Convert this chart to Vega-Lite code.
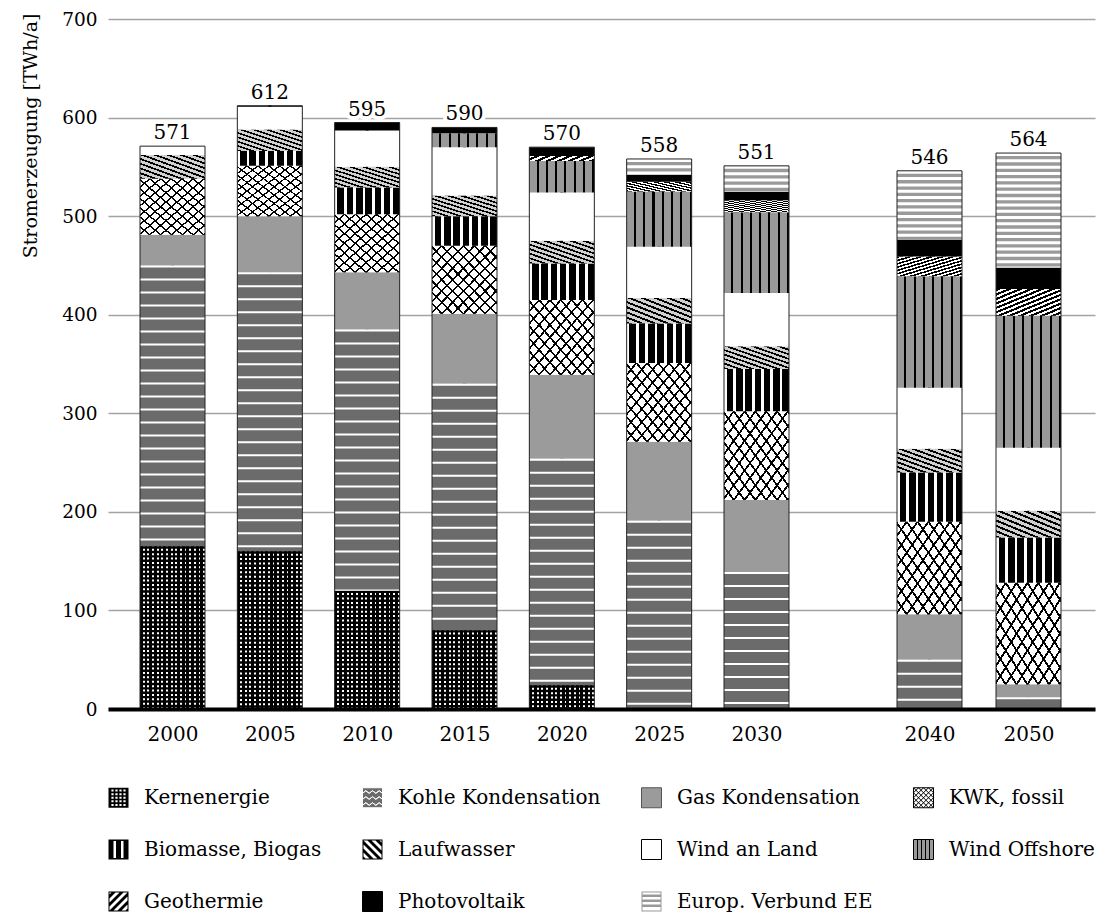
{
  "$schema": "https://vega.github.io/schema/vega-lite/v6.json",
  "width": 987,
  "height": 690,
  "autosize": {"type": "none"},
  "padding": {"left": 108, "top": 19, "right": 15, "bottom": 204},
  "background": "white",
  "config": {"font": "DejaVu Serif", "view": {"stroke": null}},
  "datasets": {
    "gen": [
      {"year": 2000, "source": "Kernenergie", "value": 165},
      {"year": 2000, "source": "Kohle Kondensation", "value": 285},
      {"year": 2000, "source": "Gas Kondensation", "value": 31},
      {"year": 2000, "source": "KWK, fossil", "value": 57},
      {"year": 2000, "source": "Laufwasser", "value": 24},
      {"year": 2000, "source": "Wind an Land", "value": 9},
      {"year": 2005, "source": "Kernenergie", "value": 160},
      {"year": 2005, "source": "Kohle Kondensation", "value": 283},
      {"year": 2005, "source": "Gas Kondensation", "value": 57},
      {"year": 2005, "source": "KWK, fossil", "value": 51},
      {"year": 2005, "source": "Biomasse, Biogas", "value": 15},
      {"year": 2005, "source": "Laufwasser", "value": 22},
      {"year": 2005, "source": "Wind an Land", "value": 23},
      {"year": 2005, "source": "Photovoltaik", "value": 1},
      {"year": 2010, "source": "Kernenergie", "value": 120},
      {"year": 2010, "source": "Kohle Kondensation", "value": 265},
      {"year": 2010, "source": "Gas Kondensation", "value": 58},
      {"year": 2010, "source": "KWK, fossil", "value": 59},
      {"year": 2010, "source": "Biomasse, Biogas", "value": 27},
      {"year": 2010, "source": "Laufwasser", "value": 21},
      {"year": 2010, "source": "Wind an Land", "value": 37},
      {"year": 2010, "source": "Photovoltaik", "value": 8},
      {"year": 2015, "source": "Kernenergie", "value": 80},
      {"year": 2015, "source": "Kohle Kondensation", "value": 250},
      {"year": 2015, "source": "Gas Kondensation", "value": 71},
      {"year": 2015, "source": "KWK, fossil", "value": 69},
      {"year": 2015, "source": "Biomasse, Biogas", "value": 30},
      {"year": 2015, "source": "Laufwasser", "value": 21},
      {"year": 2015, "source": "Wind an Land", "value": 49},
      {"year": 2015, "source": "Wind Offshore", "value": 14},
      {"year": 2015, "source": "Photovoltaik", "value": 6},
      {"year": 2020, "source": "Kernenergie", "value": 24},
      {"year": 2020, "source": "Kohle Kondensation", "value": 230},
      {"year": 2020, "source": "Gas Kondensation", "value": 85},
      {"year": 2020, "source": "KWK, fossil", "value": 76},
      {"year": 2020, "source": "Biomasse, Biogas", "value": 37},
      {"year": 2020, "source": "Laufwasser", "value": 23},
      {"year": 2020, "source": "Wind an Land", "value": 49},
      {"year": 2020, "source": "Wind Offshore", "value": 32},
      {"year": 2020, "source": "Geothermie", "value": 5},
      {"year": 2020, "source": "Photovoltaik", "value": 9},
      {"year": 2025, "source": "Kohle Kondensation", "value": 191},
      {"year": 2025, "source": "Gas Kondensation", "value": 80},
      {"year": 2025, "source": "KWK, fossil", "value": 80},
      {"year": 2025, "source": "Biomasse, Biogas", "value": 40},
      {"year": 2025, "source": "Laufwasser", "value": 26},
      {"year": 2025, "source": "Wind an Land", "value": 52},
      {"year": 2025, "source": "Wind Offshore", "value": 56},
      {"year": 2025, "source": "Geothermie", "value": 10},
      {"year": 2025, "source": "Photovoltaik", "value": 7},
      {"year": 2025, "source": "Europ. Verbund EE", "value": 16},
      {"year": 2030, "source": "Kohle Kondensation", "value": 139},
      {"year": 2030, "source": "Gas Kondensation", "value": 73},
      {"year": 2030, "source": "KWK, fossil", "value": 90},
      {"year": 2030, "source": "Biomasse, Biogas", "value": 43},
      {"year": 2030, "source": "Laufwasser", "value": 23},
      {"year": 2030, "source": "Wind an Land", "value": 54},
      {"year": 2030, "source": "Wind Offshore", "value": 82},
      {"year": 2030, "source": "Geothermie", "value": 12},
      {"year": 2030, "source": "Photovoltaik", "value": 9},
      {"year": 2030, "source": "Europ. Verbund EE", "value": 26},
      {"year": 2040, "source": "Kohle Kondensation", "value": 50},
      {"year": 2040, "source": "Gas Kondensation", "value": 46},
      {"year": 2040, "source": "KWK, fossil", "value": 94},
      {"year": 2040, "source": "Biomasse, Biogas", "value": 50},
      {"year": 2040, "source": "Laufwasser", "value": 24},
      {"year": 2040, "source": "Wind an Land", "value": 62},
      {"year": 2040, "source": "Wind Offshore", "value": 113},
      {"year": 2040, "source": "Geothermie", "value": 20},
      {"year": 2040, "source": "Photovoltaik", "value": 17},
      {"year": 2040, "source": "Europ. Verbund EE", "value": 70},
      {"year": 2050, "source": "Kohle Kondensation", "value": 12},
      {"year": 2050, "source": "Gas Kondensation", "value": 13},
      {"year": 2050, "source": "KWK, fossil", "value": 103},
      {"year": 2050, "source": "Biomasse, Biogas", "value": 46},
      {"year": 2050, "source": "Laufwasser", "value": 27},
      {"year": 2050, "source": "Wind an Land", "value": 64},
      {"year": 2050, "source": "Wind Offshore", "value": 134},
      {"year": 2050, "source": "Geothermie", "value": 27},
      {"year": 2050, "source": "Photovoltaik", "value": 22},
      {"year": 2050, "source": "Europ. Verbund EE", "value": 116}
    ],
    "tot": [
      {"year": 2000, "total": 571},
      {"year": 2005, "total": 612},
      {"year": 2010, "total": 595},
      {"year": 2015, "total": 590},
      {"year": 2020, "total": 570},
      {"year": 2025, "total": 558},
      {"year": 2030, "total": 551},
      {"year": 2040, "total": 546},
      {"year": 2050, "total": 564}
    ]
  },
  "encoding": {
    "x": {
      "field": "year",
      "type": "quantitative",
      "title": null,
      "scale": {
        "domain": [1996.69, 2000, 2030, 2040, 2050, 2056.72],
        "range": [0, 64.5, 648.5, 821.5, 920.5, 987],
        "zero": false,
        "nice": false
      },
      "axis": {
        "values": [2000, 2005, 2010, 2015, 2020, 2025, 2030, 2040, 2050],
        "format": "d",
        "grid": false,
        "ticks": false,
        "domainColor": "#000",
        "domainWidth": 4,
        "labelFontSize": 20,
        "labelColor": "#000",
        "labelPadding": 15,
        "labelOverlap": false,
        "labelFlush": false,
        "zindex": 1
      }
    }
  },
  "layer": [
    {
      "data": {"name": "gen"},
      "transform": [{"stack": "value", "groupby": ["year"], "as": ["v0", "v1"]}],
      "mark": {"type": "point", "filled": true, "size": 1, "opacity": 1},
      "encoding": {
        "y": {"field": "v0", "type": "quantitative", "title": "Stromerzeugung [TWh/a]"},
        "fill": {
          "field": "source", "type": "nominal", "title": null,
          "scale": {
            "domain": ["Kernenergie", "Kohle Kondensation", "Gas Kondensation", "KWK, fossil", "Biomasse, Biogas", "Laufwasser", "Wind an Land", "Wind Offshore", "Geothermie", "Photovoltaik", "Europ. Verbund EE"],
            "range": ["#000000", "#6b6b6b", "#9b9b9b", "#ffffff", "#000000", "#000000", "#ffffff", "#999999", "#000000", "#000000", "#999999"]
          },
          "legend": {"orient": "none", "legendX": 0, "legendY": 768, "direction": "horizontal", "columns": 4, "gridAlign": "each", "columnPadding": 38, "rowPadding": 27, "padding": 0, "title": null, "symbolSize": 400, "symbolStrokeWidth": 1, "labelFontSize": 20, "labelColor": "#000", "labelOffset": 15, "labelLimit": 400}
        },
        "stroke": {
          "field": "source", "type": "nominal", "title": null,
          "scale": {
            "domain": ["Kernenergie", "Kohle Kondensation", "Gas Kondensation", "KWK, fossil", "Biomasse, Biogas", "Laufwasser", "Wind an Land", "Wind Offshore", "Geothermie", "Photovoltaik", "Europ. Verbund EE"],
            "range": ["transparent", "#ffffff", "#555555", "#000000", "transparent", "transparent", "#000000", "#000000", "transparent", "#000000", "transparent"]
          },
          "legend": {"orient": "none", "legendX": 0, "legendY": 768, "direction": "horizontal", "columns": 4, "gridAlign": "each", "columnPadding": 38, "rowPadding": 27, "padding": 0, "title": null, "symbolSize": 400, "symbolStrokeWidth": 1, "labelFontSize": 20, "labelColor": "#000", "labelOffset": 15, "labelLimit": 400}
        },
        "shape": {
          "field": "source", "type": "nominal", "title": null,
          "scale": {
            "domain": ["Kernenergie", "Kohle Kondensation", "Gas Kondensation", "KWK, fossil", "Biomasse, Biogas", "Laufwasser", "Wind an Land", "Wind Offshore", "Geothermie", "Photovoltaik", "Europ. Verbund EE"],
            "range": [
              "M-1,-1H1V1H-1Z M-0.71,-0.82V-0.62H-0.49V-0.82Z M-0.31,-0.82V-0.62H-0.09V-0.82Z M0.09,-0.82V-0.62H0.31V-0.82Z M0.49,-0.82V-0.62H0.71V-0.82Z M-0.71,-0.46V-0.26H-0.49V-0.46Z M-0.31,-0.46V-0.26H-0.09V-0.46Z M0.09,-0.46V-0.26H0.31V-0.46Z M0.49,-0.46V-0.26H0.71V-0.46Z M-0.71,-0.1V0.1H-0.49V-0.1Z M-0.31,-0.1V0.1H-0.09V-0.1Z M0.09,-0.1V0.1H0.31V-0.1Z M0.49,-0.1V0.1H0.71V-0.1Z M-0.71,0.26V0.46H-0.49V0.26Z M-0.31,0.26V0.46H-0.09V0.26Z M0.09,0.26V0.46H0.31V0.26Z M0.49,0.26V0.46H0.71V0.26Z M-0.71,0.62V0.82H-0.49V0.62Z M-0.31,0.62V0.82H-0.09V0.62Z M0.09,0.62V0.82H0.31V0.62Z M0.49,0.62V0.82H0.71V0.62Z",
              "M-1,-1H1V1H-1Z M-1,-0.45L-0.67,-0.7L-0.33,-0.45L0,-0.7L0.33,-0.45L0.67,-0.7L1,-0.45L0.67,-0.7L0.33,-0.45L0,-0.7L-0.33,-0.45L-0.67,-0.7Z M-1,0.15L-0.67,-0.1L-0.33,0.15L0,-0.1L0.33,0.15L0.67,-0.1L1,0.15L0.67,-0.1L0.33,0.15L0,-0.1L-0.33,0.15L-0.67,-0.1Z M-1,0.75L-0.67,0.5L-0.33,0.75L0,0.5L0.33,0.75L0.67,0.5L1,0.75L0.67,0.5L0.33,0.75L0,0.5L-0.33,0.75L-0.67,0.5Z",
              "M-1,-1H1V1H-1Z",
              "M-1,-1H1V1H-1Z M-1,-0.5L-0.5,-1 M-1,0L0,-1 M-1,0.5L0.5,-1 M-1,1L1,-1 M-0.5,1L1,-0.5 M0,1L1,0 M0.5,1L1,0.5 M0.5,-1L1,-0.5 M0,-1L1,0 M-0.5,-1L1,0.5 M-1,-1L1,1 M-1,-0.5L0.5,1 M-1,0L0,1 M-1,0.5L-0.5,1",
              "M-1,-1H1V1H-1Z M-0.5,-0.85V0.85H-0.25V-0.85Z M0.25,-0.85V0.85H0.5V-0.85Z",
              "M-1,-1H1V1H-1Z M-0.9,-0.9V0.9H0.9V-0.9Z M-0.6,1L-1,1L-1,0.6Z M0.2,1L-0.2,1L-1,0.2L-1,-0.2Z M1,1L0.6,1L-1,-0.6L-1,-1Z M-0.6,-1L-0.2,-1L1,0.2L1,0.6Z M0.2,-1L0.6,-1L1,-0.6L1,-0.2Z",
              "M-1,-1H1V1H-1Z",
              "M-1,-1H1V1H-1Z M-0.6,-1V1 M-0.2,-1V1 M0.2,-1V1 M0.6,-1V1",
              "M-1,-1H1V1H-1Z M-0.9,-0.9V0.9H0.9V-0.9Z M1,0.6L1,1L0.6,1Z M1,-0.2L1,0.2L0.2,1L-0.2,1Z M1,-1L1,-0.6L-0.6,1L-1,1Z M-1,0.6L-1,0.2L0.2,-1L0.6,-1Z M-1,-0.2L-1,-0.6L-0.6,-1L-0.2,-1Z",
              "M-1,-1H1V1H-1Z",
              "M-1,-1H1V1H-1Z M-0.9,-0.9V0.9H0.9V-0.9Z M-1,-0.7H1V-0.45H-1Z M-1,-0.2H1V0.05H-1Z M-1,0.3H1V0.55H-1Z"
            ]
          },
          "legend": {"orient": "none", "legendX": 0, "legendY": 768, "direction": "horizontal", "columns": 4, "gridAlign": "each", "columnPadding": 38, "rowPadding": 27, "padding": 0, "title": null, "symbolSize": 400, "symbolStrokeWidth": 1, "labelFontSize": 20, "labelColor": "#000", "labelOffset": 15, "labelLimit": 400}
        }
      }
    },
    {
      "data": {"name": "gen"},
      "transform": [{"stack": "value", "groupby": ["year"], "as": ["v0", "v1"]}],
      "mark": {"type": "bar", "width": 65, "strokeWidth": 0},
      "encoding": {
        "y": {
          "field": "v1",
          "type": "quantitative",
          "title": "Stromerzeugung [TWh/a]",
          "scale": {"domain": [0, 700], "nice": false},
          "axis": {
            "values": [0, 100, 200, 300, 400, 500, 600, 700],
            "grid": true,
            "gridColor": "#a3a3a3",
            "gridWidth": 1.6,
            "domain": false,
            "ticks": false,
            "labelPadding": 11,
            "labelFontSize": 18.5,
            "labelColor": "#000",
            "titleFontSize": 19,
            "titleFontWeight": "normal",
            "titleColor": "#000",
            "titleAnchor": "end",
            "titleAngle": -90,
            "titleAlign": "right",
            "titleBaseline": "middle",
            "titleX": -78,
            "titleY": -6
          }
        },
        "y2": {"field": "v0"},
        "fill": {
          "condition": [
            {"test": "datum.source === 'Kernenergie'", "value": {"gradient": "linear", "x1": 0, "y1": 0, "x2": 1, "y2": 0, "stops": [
              {"offset": 0, "color": "#000"}, {"offset": 0.0429, "color": "#000"}, {"offset": 0.0429, "color": "#fff"}, {"offset": 0.0714, "color": "#fff"},
              {"offset": 0.0714, "color": "#000"}, {"offset": 0.1143, "color": "#000"}, {"offset": 0.1143, "color": "#fff"}, {"offset": 0.1429, "color": "#fff"},
              {"offset": 0.1429, "color": "#000"}, {"offset": 0.1857, "color": "#000"}, {"offset": 0.1857, "color": "#fff"}, {"offset": 0.2143, "color": "#fff"},
              {"offset": 0.2143, "color": "#000"}, {"offset": 0.2571, "color": "#000"}, {"offset": 0.2571, "color": "#fff"}, {"offset": 0.2857, "color": "#fff"},
              {"offset": 0.2857, "color": "#000"}, {"offset": 0.3286, "color": "#000"}, {"offset": 0.3286, "color": "#fff"}, {"offset": 0.3571, "color": "#fff"},
              {"offset": 0.3571, "color": "#000"}, {"offset": 0.4, "color": "#000"}, {"offset": 0.4, "color": "#fff"}, {"offset": 0.4286, "color": "#fff"},
              {"offset": 0.4286, "color": "#000"}, {"offset": 0.4714, "color": "#000"}, {"offset": 0.4714, "color": "#fff"}, {"offset": 0.5, "color": "#fff"},
              {"offset": 0.5, "color": "#000"}, {"offset": 0.5429, "color": "#000"}, {"offset": 0.5429, "color": "#fff"}, {"offset": 0.5714, "color": "#fff"},
              {"offset": 0.5714, "color": "#000"}, {"offset": 0.6143, "color": "#000"}, {"offset": 0.6143, "color": "#fff"}, {"offset": 0.6429, "color": "#fff"},
              {"offset": 0.6429, "color": "#000"}, {"offset": 0.6857, "color": "#000"}, {"offset": 0.6857, "color": "#fff"}, {"offset": 0.7143, "color": "#fff"},
              {"offset": 0.7143, "color": "#000"}, {"offset": 0.7571, "color": "#000"}, {"offset": 0.7571, "color": "#fff"}, {"offset": 0.7857, "color": "#fff"},
              {"offset": 0.7857, "color": "#000"}, {"offset": 0.8286, "color": "#000"}, {"offset": 0.8286, "color": "#fff"}, {"offset": 0.8571, "color": "#fff"},
              {"offset": 0.8571, "color": "#000"}, {"offset": 0.9, "color": "#000"}, {"offset": 0.9, "color": "#fff"}, {"offset": 0.9286, "color": "#fff"},
              {"offset": 0.9286, "color": "#000"}, {"offset": 0.9714, "color": "#000"}, {"offset": 0.9714, "color": "#fff"}, {"offset": 1, "color": "#fff"}
            ]}},
            {"test": "datum.source === 'Kohle Kondensation'", "value": "#6b6b6b"},
            {"test": "datum.source === 'Gas Kondensation'", "value": "#9b9b9b"},
            {"test": "datum.source === 'KWK, fossil'", "value": {"gradient": "linear", "x1": 0, "y1": 0, "x2": 1, "y2": 1, "stops": [
              {"offset": 0, "color": "#fff"}, {"offset": 0.0667, "color": "#fff"}, {"offset": 0.0667, "color": "#000"}, {"offset": 0.0833, "color": "#000"},
              {"offset": 0.0833, "color": "#fff"}, {"offset": 0.15, "color": "#fff"}, {"offset": 0.15, "color": "#000"}, {"offset": 0.1667, "color": "#000"},
              {"offset": 0.1667, "color": "#fff"}, {"offset": 0.2333, "color": "#fff"}, {"offset": 0.2333, "color": "#000"}, {"offset": 0.25, "color": "#000"},
              {"offset": 0.25, "color": "#fff"}, {"offset": 0.3167, "color": "#fff"}, {"offset": 0.3167, "color": "#000"}, {"offset": 0.3333, "color": "#000"},
              {"offset": 0.3333, "color": "#fff"}, {"offset": 0.4, "color": "#fff"}, {"offset": 0.4, "color": "#000"}, {"offset": 0.4167, "color": "#000"},
              {"offset": 0.4167, "color": "#fff"}, {"offset": 0.4833, "color": "#fff"}, {"offset": 0.4833, "color": "#000"}, {"offset": 0.5, "color": "#000"},
              {"offset": 0.5, "color": "#fff"}, {"offset": 0.5667, "color": "#fff"}, {"offset": 0.5667, "color": "#000"}, {"offset": 0.5833, "color": "#000"},
              {"offset": 0.5833, "color": "#fff"}, {"offset": 0.65, "color": "#fff"}, {"offset": 0.65, "color": "#000"}, {"offset": 0.6667, "color": "#000"},
              {"offset": 0.6667, "color": "#fff"}, {"offset": 0.7333, "color": "#fff"}, {"offset": 0.7333, "color": "#000"}, {"offset": 0.75, "color": "#000"},
              {"offset": 0.75, "color": "#fff"}, {"offset": 0.8167, "color": "#fff"}, {"offset": 0.8167, "color": "#000"}, {"offset": 0.8333, "color": "#000"},
              {"offset": 0.8333, "color": "#fff"}, {"offset": 0.9, "color": "#fff"}, {"offset": 0.9, "color": "#000"}, {"offset": 0.9167, "color": "#000"},
              {"offset": 0.9167, "color": "#fff"}, {"offset": 0.9833, "color": "#fff"}, {"offset": 0.9833, "color": "#000"}, {"offset": 1, "color": "#000"}
            ]}},
            {"test": "datum.source === 'Biomasse, Biogas'", "value": {"gradient": "linear", "x1": 0, "y1": 0, "x2": 1, "y2": 0, "stops": [
              {"offset": 0, "color": "#fff"}, {"offset": 0.0429, "color": "#fff"}, {"offset": 0.0429, "color": "#000"}, {"offset": 0.1429, "color": "#000"},
              {"offset": 0.1429, "color": "#fff"}, {"offset": 0.1857, "color": "#fff"}, {"offset": 0.1857, "color": "#000"}, {"offset": 0.2857, "color": "#000"},
              {"offset": 0.2857, "color": "#fff"}, {"offset": 0.3286, "color": "#fff"}, {"offset": 0.3286, "color": "#000"}, {"offset": 0.4286, "color": "#000"},
              {"offset": 0.4286, "color": "#fff"}, {"offset": 0.4714, "color": "#fff"}, {"offset": 0.4714, "color": "#000"}, {"offset": 0.5714, "color": "#000"},
              {"offset": 0.5714, "color": "#fff"}, {"offset": 0.6143, "color": "#fff"}, {"offset": 0.6143, "color": "#000"}, {"offset": 0.7143, "color": "#000"},
              {"offset": 0.7143, "color": "#fff"}, {"offset": 0.7571, "color": "#fff"}, {"offset": 0.7571, "color": "#000"}, {"offset": 0.8571, "color": "#000"},
              {"offset": 0.8571, "color": "#fff"}, {"offset": 0.9, "color": "#fff"}, {"offset": 0.9, "color": "#000"}, {"offset": 1, "color": "#000"}
            ]}},
            {"test": "datum.source === 'Laufwasser'", "value": {"gradient": "linear", "x1": 0, "y1": 1, "x2": 1, "y2": 0, "stops": [
              {"offset": 0, "color": "#000"}, {"offset": 0.04, "color": "#000"}, {"offset": 0.04, "color": "#d0d0d0"}, {"offset": 0.1, "color": "#d0d0d0"},
              {"offset": 0.1, "color": "#000"}, {"offset": 0.14, "color": "#000"}, {"offset": 0.14, "color": "#d0d0d0"}, {"offset": 0.2, "color": "#d0d0d0"},
              {"offset": 0.2, "color": "#000"}, {"offset": 0.24, "color": "#000"}, {"offset": 0.24, "color": "#d0d0d0"}, {"offset": 0.3, "color": "#d0d0d0"},
              {"offset": 0.3, "color": "#000"}, {"offset": 0.34, "color": "#000"}, {"offset": 0.34, "color": "#d0d0d0"}, {"offset": 0.4, "color": "#d0d0d0"},
              {"offset": 0.4, "color": "#000"}, {"offset": 0.44, "color": "#000"}, {"offset": 0.44, "color": "#d0d0d0"}, {"offset": 0.5, "color": "#d0d0d0"},
              {"offset": 0.5, "color": "#000"}, {"offset": 0.54, "color": "#000"}, {"offset": 0.54, "color": "#d0d0d0"}, {"offset": 0.6, "color": "#d0d0d0"},
              {"offset": 0.6, "color": "#000"}, {"offset": 0.64, "color": "#000"}, {"offset": 0.64, "color": "#d0d0d0"}, {"offset": 0.7, "color": "#d0d0d0"},
              {"offset": 0.7, "color": "#000"}, {"offset": 0.74, "color": "#000"}, {"offset": 0.74, "color": "#d0d0d0"}, {"offset": 0.8, "color": "#d0d0d0"},
              {"offset": 0.8, "color": "#000"}, {"offset": 0.84, "color": "#000"}, {"offset": 0.84, "color": "#d0d0d0"}, {"offset": 0.9, "color": "#d0d0d0"},
              {"offset": 0.9, "color": "#000"}, {"offset": 0.94, "color": "#000"}, {"offset": 0.94, "color": "#d0d0d0"}, {"offset": 1, "color": "#d0d0d0"}
            ]}},
            {"test": "datum.source === 'Wind an Land'", "value": "#ffffff"},
            {"test": "datum.source === 'Wind Offshore'", "value": {"gradient": "linear", "x1": 0, "y1": 0, "x2": 1, "y2": 0, "stops": [
              {"offset": 0, "color": "#999"}, {"offset": 0.1114, "color": "#999"}, {"offset": 0.1114, "color": "#000"}, {"offset": 0.1429, "color": "#000"},
              {"offset": 0.1429, "color": "#999"}, {"offset": 0.2543, "color": "#999"}, {"offset": 0.2543, "color": "#000"}, {"offset": 0.2857, "color": "#000"},
              {"offset": 0.2857, "color": "#999"}, {"offset": 0.3971, "color": "#999"}, {"offset": 0.3971, "color": "#000"}, {"offset": 0.4286, "color": "#000"},
              {"offset": 0.4286, "color": "#999"}, {"offset": 0.54, "color": "#999"}, {"offset": 0.54, "color": "#000"}, {"offset": 0.5714, "color": "#000"},
              {"offset": 0.5714, "color": "#999"}, {"offset": 0.6829, "color": "#999"}, {"offset": 0.6829, "color": "#000"}, {"offset": 0.7143, "color": "#000"},
              {"offset": 0.7143, "color": "#999"}, {"offset": 0.8257, "color": "#999"}, {"offset": 0.8257, "color": "#000"}, {"offset": 0.8571, "color": "#000"},
              {"offset": 0.8571, "color": "#999"}, {"offset": 0.9686, "color": "#999"}, {"offset": 0.9686, "color": "#000"}, {"offset": 1, "color": "#000"}
            ]}},
            {"test": "datum.source === 'Geothermie'", "value": {"gradient": "linear", "x1": 0, "y1": 0, "x2": 1, "y2": 1, "stops": [
              {"offset": 0, "color": "#000"}, {"offset": 0.0417, "color": "#000"}, {"offset": 0.0417, "color": "#fff"}, {"offset": 0.0833, "color": "#fff"},
              {"offset": 0.0833, "color": "#000"}, {"offset": 0.125, "color": "#000"}, {"offset": 0.125, "color": "#fff"}, {"offset": 0.1667, "color": "#fff"},
              {"offset": 0.1667, "color": "#000"}, {"offset": 0.2083, "color": "#000"}, {"offset": 0.2083, "color": "#fff"}, {"offset": 0.25, "color": "#fff"},
              {"offset": 0.25, "color": "#000"}, {"offset": 0.2917, "color": "#000"}, {"offset": 0.2917, "color": "#fff"}, {"offset": 0.3333, "color": "#fff"},
              {"offset": 0.3333, "color": "#000"}, {"offset": 0.375, "color": "#000"}, {"offset": 0.375, "color": "#fff"}, {"offset": 0.4167, "color": "#fff"},
              {"offset": 0.4167, "color": "#000"}, {"offset": 0.4583, "color": "#000"}, {"offset": 0.4583, "color": "#fff"}, {"offset": 0.5, "color": "#fff"},
              {"offset": 0.5, "color": "#000"}, {"offset": 0.5417, "color": "#000"}, {"offset": 0.5417, "color": "#fff"}, {"offset": 0.5833, "color": "#fff"},
              {"offset": 0.5833, "color": "#000"}, {"offset": 0.625, "color": "#000"}, {"offset": 0.625, "color": "#fff"}, {"offset": 0.6667, "color": "#fff"},
              {"offset": 0.6667, "color": "#000"}, {"offset": 0.7083, "color": "#000"}, {"offset": 0.7083, "color": "#fff"}, {"offset": 0.75, "color": "#fff"},
              {"offset": 0.75, "color": "#000"}, {"offset": 0.7917, "color": "#000"}, {"offset": 0.7917, "color": "#fff"}, {"offset": 0.8333, "color": "#fff"},
              {"offset": 0.8333, "color": "#000"}, {"offset": 0.875, "color": "#000"}, {"offset": 0.875, "color": "#fff"}, {"offset": 0.9167, "color": "#fff"},
              {"offset": 0.9167, "color": "#000"}, {"offset": 0.9583, "color": "#000"}, {"offset": 0.9583, "color": "#fff"}, {"offset": 1, "color": "#fff"}
            ]}},
            {"test": "datum.source === 'Photovoltaik'", "value": "#000000"}
          ],
          "value": "#9a9a9a"
        }
      }
    },
    {
      "data": {"name": "gen"},
      "transform": [
        {"stack": "value", "groupby": ["year"], "as": ["v0", "v1"]},
        {"filter": "datum.source === 'KWK, fossil'"}
      ],
      "mark": {"type": "bar", "width": 65, "strokeWidth": 0, "fill": {"gradient": "linear", "x1": 0, "y1": 1, "x2": 1, "y2": 0, "stops": [
        {"offset": 0, "color": "rgba(0,0,0,0)"}, {"offset": 0.0667, "color": "rgba(0,0,0,0)"}, {"offset": 0.0667, "color": "#000"}, {"offset": 0.0833, "color": "#000"},
        {"offset": 0.0833, "color": "rgba(0,0,0,0)"}, {"offset": 0.15, "color": "rgba(0,0,0,0)"}, {"offset": 0.15, "color": "#000"}, {"offset": 0.1667, "color": "#000"},
        {"offset": 0.1667, "color": "rgba(0,0,0,0)"}, {"offset": 0.2333, "color": "rgba(0,0,0,0)"}, {"offset": 0.2333, "color": "#000"}, {"offset": 0.25, "color": "#000"},
        {"offset": 0.25, "color": "rgba(0,0,0,0)"}, {"offset": 0.3167, "color": "rgba(0,0,0,0)"}, {"offset": 0.3167, "color": "#000"}, {"offset": 0.3333, "color": "#000"},
        {"offset": 0.3333, "color": "rgba(0,0,0,0)"}, {"offset": 0.4, "color": "rgba(0,0,0,0)"}, {"offset": 0.4, "color": "#000"}, {"offset": 0.4167, "color": "#000"},
        {"offset": 0.4167, "color": "rgba(0,0,0,0)"}, {"offset": 0.4833, "color": "rgba(0,0,0,0)"}, {"offset": 0.4833, "color": "#000"}, {"offset": 0.5, "color": "#000"},
        {"offset": 0.5, "color": "rgba(0,0,0,0)"}, {"offset": 0.5667, "color": "rgba(0,0,0,0)"}, {"offset": 0.5667, "color": "#000"}, {"offset": 0.5833, "color": "#000"},
        {"offset": 0.5833, "color": "rgba(0,0,0,0)"}, {"offset": 0.65, "color": "rgba(0,0,0,0)"}, {"offset": 0.65, "color": "#000"}, {"offset": 0.6667, "color": "#000"},
        {"offset": 0.6667, "color": "rgba(0,0,0,0)"}, {"offset": 0.7333, "color": "rgba(0,0,0,0)"}, {"offset": 0.7333, "color": "#000"}, {"offset": 0.75, "color": "#000"},
        {"offset": 0.75, "color": "rgba(0,0,0,0)"}, {"offset": 0.8167, "color": "rgba(0,0,0,0)"}, {"offset": 0.8167, "color": "#000"}, {"offset": 0.8333, "color": "#000"},
        {"offset": 0.8333, "color": "rgba(0,0,0,0)"}, {"offset": 0.9, "color": "rgba(0,0,0,0)"}, {"offset": 0.9, "color": "#000"}, {"offset": 0.9167, "color": "#000"},
        {"offset": 0.9167, "color": "rgba(0,0,0,0)"}, {"offset": 0.9833, "color": "rgba(0,0,0,0)"}, {"offset": 0.9833, "color": "#000"}, {"offset": 1, "color": "#000"}
      ]}},
      "encoding": {
        "y": {"field": "v1", "type": "quantitative", "title": "Stromerzeugung [TWh/a]"},
        "y2": {"field": "v0"}
      }
    },
    {
      "data": {"name": "gen"},
      "transform": [
        {"stack": "value", "groupby": ["year"], "as": ["v0", "v1"]},
        {"filter": "datum.source === 'Europ. Verbund EE'"}
      ],
      "mark": {"type": "rule", "stroke": "#fff", "strokeWidth": 65, "strokeDash": [3, 3.3]},
      "encoding": {
        "y": {"field": "v1", "type": "quantitative", "title": "Stromerzeugung [TWh/a]"},
        "y2": {"field": "v0"}
      }
    },
    {
      "data": {"name": "gen"},
      "transform": [
        {"stack": "value", "groupby": ["year"], "as": ["v0", "v1"]},
        {"filter": "datum.source === 'Kernenergie'"}
      ],
      "mark": {"type": "rule", "stroke": "#000", "strokeWidth": 65, "strokeDash": [2.4, 2]},
      "encoding": {
        "y": {"field": "v1", "type": "quantitative", "title": "Stromerzeugung [TWh/a]"},
        "y2": {"field": "v0"}
      }
    },
    {
      "data": {"name": "gen"},
      "transform": [
        {"stack": "value", "groupby": ["year"], "as": ["v0", "v1"]},
        {"filter": "datum.source === 'Kohle Kondensation'"}
      ],
      "mark": {"type": "rule", "stroke": "#fff", "strokeWidth": 65, "strokeDash": [2, 11]},
      "encoding": {
        "y": {"field": "v1", "type": "quantitative", "title": "Stromerzeugung [TWh/a]"},
        "y2": {"field": "v0"}
      }
    },
    {
      "data": {"name": "tot"},
      "mark": {"type": "bar", "width": 65, "fill": "transparent", "stroke": "#222", "strokeWidth": 1},
      "encoding": {
        "y": {"field": "total", "type": "quantitative", "title": "Stromerzeugung [TWh/a]"},
        "y2": {"datum": 0}
      }
    },
    {
      "data": {"name": "tot"},
      "mark": {"type": "text", "fontSize": 20, "dy": -7, "baseline": "alphabetic", "fill": "#fff", "stroke": "#fff", "strokeWidth": 8, "strokeJoin": "round"},
      "encoding": {
        "y": {"field": "total", "type": "quantitative", "title": "Stromerzeugung [TWh/a]"},
        "text": {"field": "total", "type": "quantitative", "format": "d"}
      }
    },
    {
      "data": {"name": "tot"},
      "mark": {"type": "text", "fontSize": 20, "dy": -7, "baseline": "alphabetic", "fill": "#000"},
      "encoding": {
        "y": {"field": "total", "type": "quantitative", "title": "Stromerzeugung [TWh/a]"},
        "text": {"field": "total", "type": "quantitative", "format": "d"}
      }
    }
  ]
}
